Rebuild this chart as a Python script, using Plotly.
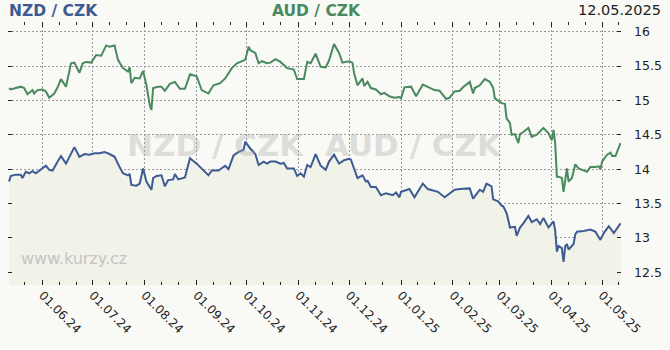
import plotly.graph_objects as go

aud_dates = ["2024-05-12","2024-05-13","2024-05-16","2024-05-19","2024-05-21","2024-05-23","2024-05-26","2024-05-27","2024-05-29",
"2024-06-01","2024-06-03","2024-06-05","2024-06-08","2024-06-10","2024-06-12","2024-06-15","2024-06-18","2024-06-20","2024-06-23",
"2024-06-25","2024-06-27","2024-06-30","2024-07-03","2024-07-06","2024-07-09","2024-07-11","2024-07-14","2024-07-16","2024-07-19",
"2024-07-22","2024-07-23","2024-07-24","2024-07-26","2024-07-29","2024-07-31","2024-08-02","2024-08-04","2024-08-05","2024-08-06",
"2024-08-09","2024-08-11","2024-08-13","2024-08-16","2024-08-19","2024-08-22","2024-08-25","2024-08-28","2024-09-01","2024-09-04",
"2024-09-08","2024-09-11","2024-09-15","2024-09-18","2024-09-22","2024-09-25","2024-09-30","2024-10-02","2024-10-03","2024-10-06",
"2024-10-08","2024-10-10","2024-10-13","2024-10-15","2024-10-18","2024-10-21","2024-10-25","2024-10-29","2024-10-31","2024-11-04",
"2024-11-06","2024-11-08","2024-11-11","2024-11-14","2024-11-17","2024-11-19","2024-11-22","2024-11-25","2024-11-27","2024-12-01",
"2024-12-03","2024-12-04","2024-12-06","2024-12-09","2024-12-10","2024-12-12","2024-12-14","2024-12-17","2024-12-20","2024-12-22",
"2024-12-25","2024-12-28","2024-12-31","2025-01-01","2025-01-03","2025-01-07","2025-01-10","2025-01-14","2025-01-17","2025-01-21",
"2025-01-24","2025-01-28","2025-01-30","2025-02-02","2025-02-05","2025-02-07","2025-02-11","2025-02-13","2025-02-14","2025-02-17",
"2025-02-20","2025-02-23","2025-02-25","2025-02-26","2025-03-02","2025-03-04","2025-03-05","2025-03-07","2025-03-08","2025-03-10",
"2025-03-12","2025-03-13","2025-03-15","2025-03-18","2025-03-20","2025-03-23","2025-03-27","2025-03-30","2025-04-01","2025-04-02",
"2025-04-03","2025-04-04","2025-04-05","2025-04-07","2025-04-08","2025-04-09","2025-04-10","2025-04-11","2025-04-13","2025-04-15",
"2025-04-17","2025-04-22","2025-04-24","2025-04-27","2025-04-29","2025-04-30","2025-05-01","2025-05-04","2025-05-06","2025-05-07",
"2025-05-09","2025-05-12"]
aud_values = [15.18,15.16,15.18,15.20,15.18,15.09,15.15,15.10,15.15,
15.16,15.13,15.04,15.10,15.19,15.31,15.20,15.54,15.55,15.40,
15.54,15.56,15.55,15.66,15.65,15.80,15.78,15.80,15.59,15.47,
15.42,15.48,15.25,15.33,15.32,15.43,15.22,14.93,14.86,15.18,
15.20,15.20,15.14,15.24,15.27,15.17,15.17,15.38,15.35,15.15,
15.10,15.22,15.25,15.32,15.47,15.54,15.59,15.78,15.73,15.69,
15.54,15.57,15.54,15.55,15.60,15.56,15.47,15.45,15.31,15.31,
15.56,15.54,15.68,15.49,15.48,15.58,15.82,15.69,15.55,15.57,
15.55,15.39,15.22,15.32,15.21,15.27,15.18,15.16,15.09,15.11,
15.06,15.04,15.05,15.03,15.19,15.20,15.06,15.23,15.20,15.15,
15.14,15.02,15.04,15.13,15.14,15.19,15.27,15.10,15.18,15.22,
15.31,15.27,15.18,15.03,14.96,14.95,14.74,14.67,14.50,14.51,
14.38,14.51,14.54,14.60,14.47,14.50,14.60,14.52,14.42,14.57,
14.38,13.89,13.89,13.87,13.67,13.89,14.01,13.82,13.87,14.07,
14.01,13.96,14.03,14.03,14.04,14.00,14.11,14.21,14.24,14.19,
14.19,14.38]

nzd_dates = ["2024-05-12","2024-05-13","2024-05-16","2024-05-19","2024-05-20","2024-05-22","2024-05-24","2024-05-26","2024-05-28",
"2024-05-31","2024-06-03","2024-06-05","2024-06-07","2024-06-10","2024-06-12","2024-06-15","2024-06-20","2024-06-23","2024-06-26",
"2024-06-29","2024-07-02","2024-07-05","2024-07-08","2024-07-11","2024-07-14","2024-07-17","2024-07-19","2024-07-22","2024-07-23",
"2024-07-24","2024-07-27","2024-07-29","2024-07-31","2024-08-02","2024-08-05","2024-08-06","2024-08-08","2024-08-11","2024-08-13",
"2024-08-15","2024-08-18","2024-08-19","2024-08-21","2024-08-25","2024-08-28","2024-09-01","2024-09-04","2024-09-08","2024-09-10",
"2024-09-14","2024-09-18","2024-09-20","2024-09-23","2024-09-26","2024-09-29","2024-09-30","2024-10-03","2024-10-06","2024-10-08",
"2024-10-11","2024-10-13","2024-10-15","2024-10-18","2024-10-21","2024-10-23","2024-10-25","2024-10-29","2024-10-31","2024-11-02",
"2024-11-04","2024-11-06","2024-11-08","2024-11-11","2024-11-14","2024-11-17","2024-11-19","2024-11-22","2024-11-25","2024-11-28",
"2024-12-01","2024-12-02","2024-12-04","2024-12-06","2024-12-09","2024-12-11","2024-12-12","2024-12-14","2024-12-17","2024-12-20",
"2024-12-23","2024-12-27","2024-12-29","2024-12-31","2025-01-01","2025-01-06","2025-01-09","2025-01-14","2025-01-17","2025-01-23",
"2025-01-27","2025-01-30","2025-02-02","2025-02-05","2025-02-08","2025-02-11","2025-02-13","2025-02-16","2025-02-17","2025-02-19",
"2025-02-21","2025-02-24","2025-02-25","2025-02-28","2025-03-02","2025-03-03","2025-03-05","2025-03-06","2025-03-07","2025-03-10",
"2025-03-11","2025-03-13","2025-03-15","2025-03-18","2025-03-20","2025-03-23","2025-03-25","2025-03-27","2025-03-30","2025-04-02",
"2025-04-03","2025-04-04","2025-04-05","2025-04-07","2025-04-08","2025-04-09","2025-04-10","2025-04-11","2025-04-14","2025-04-15",
"2025-04-16","2025-04-20","2025-04-24","2025-04-27","2025-04-30","2025-05-02","2025-05-05","2025-05-08","2025-05-12"]
nzd_values = [13.82,13.90,13.92,13.92,13.87,13.96,13.94,13.97,13.94,
13.99,14.05,13.99,13.98,14.11,14.19,14.08,14.32,14.18,14.22,
14.21,14.23,14.23,14.25,14.22,14.18,14.03,13.94,13.91,13.93,
13.77,13.76,13.79,14.01,13.82,13.70,13.87,13.90,13.91,13.75,
13.84,13.85,13.93,13.85,13.88,14.16,14.08,14.01,13.91,13.98,
13.98,14.05,14.00,14.20,14.25,14.28,14.40,14.30,14.22,14.06,
14.11,14.08,14.11,14.11,14.08,14.09,14.01,14.01,13.90,13.94,
13.89,14.06,14.03,14.22,14.05,13.99,14.11,14.21,14.08,14.13,
14.15,14.14,13.99,13.87,13.91,13.82,13.83,13.74,13.74,13.62,
13.65,13.62,13.66,13.59,13.67,13.71,13.59,13.79,13.71,13.67,
13.59,13.64,13.70,13.71,13.72,13.72,13.57,13.67,13.70,13.67,
13.79,13.75,13.56,13.53,13.47,13.46,13.36,13.26,13.15,13.16,
13.03,13.15,13.21,13.32,13.23,13.27,13.20,13.29,13.15,13.24,
13.11,12.80,12.88,12.85,12.65,12.88,12.91,12.83,12.91,13.05,
13.09,13.10,13.12,13.09,12.97,13.07,13.17,13.07,13.21]

month_ticks = ["2024-06-01","2024-07-01","2024-08-01","2024-09-01","2024-10-01","2024-11-01",
               "2024-12-01","2025-01-01","2025-02-01","2025-03-01","2025-04-01","2025-05-01"]
month_labels = ["01.06.24","01.07.24","01.08.24","01.09.24","01.10.24","01.11.24",
                "01.12.24","01.01.25","01.02.25","01.03.25","01.04.25","01.05.25"]
minor_ticks = []
for m in ["2024-05","2024-06","2024-07","2024-08","2024-09","2024-10","2024-11","2024-12",
          "2025-01","2025-02","2025-03","2025-04","2025-05"]:
    minor_ticks += [m + "-11", m + "-21"]
y_ticks = [12.5, 13, 13.5, 14, 14.5, 15, 15.5, 16]

BLUE = "#3d5b92"
GREEN = "#488a5d"
BG = "#f9f9f5"
FONT = "DejaVu Sans"

fig = go.Figure()
fig.add_trace(go.Scatter(x=nzd_dates, y=nzd_values, mode="lines", fill="tozeroy",
                         fillcolor="#f1f2e8", line=dict(color=BLUE, width=2),
                         name="NZD / CZK", showlegend=False))
fig.add_trace(go.Scatter(x=aud_dates, y=aud_values, mode="lines",
                         line=dict(color=GREEN, width=2),
                         name="AUD / CZK", showlegend=False))

fig.update_layout(
    width=670, height=350,
    margin=dict(l=8, r=45, t=22, b=65),
    paper_bgcolor=BG, plot_bgcolor=BG,
    font=dict(family=FONT, color="#222222"),
    xaxis=dict(
        type="date", range=["2024-05-11 09:00", "2025-05-12 07:00"],
        tickmode="array", tickvals=month_ticks, ticktext=month_labels,
        tickangle=45, tickfont=dict(size=12, color="#222222"),
        ticks="inside", ticklen=5, tickcolor="#222222", tickwidth=1,
        mirror="ticks", showline=False, zeroline=False,
        showgrid=True, gridcolor="#9a9a9a", griddash="2px,2px", gridwidth=1,
        minor=dict(tickmode="array", tickvals=minor_ticks, ticks="inside",
                   ticklen=3, tickcolor="#222222", showgrid=False),
    ),
    yaxis=dict(
        side="right", range=[12.314, 16.141],
        tickmode="array", tickvals=y_ticks, ticktext=[f"{v:g}" for v in y_ticks],
        tickfont=dict(size=12.5, color="#222222"),
        ticks="inside", ticklen=4, tickcolor="#222222", mirror="ticks",
        ticklabelstandoff=12,
        showline=False, zeroline=False,
        showgrid=True, gridcolor="#9a9a9a", griddash="2px,2px", gridwidth=1,
    ),
    annotations=[
        dict(text="<b>NZD / CZK</b>", xref="paper", yref="paper", x=-0.001, y=1.0, yshift=22,
             xanchor="left", yanchor="top", showarrow=False,
             font=dict(family=FONT, size=15.5, color=BLUE)),
        dict(text="<b>AUD / CZK</b>", xref="paper", yref="paper", x=0.503, y=1.0, yshift=22,
             xanchor="center", yanchor="top", showarrow=False,
             font=dict(family=FONT, size=15.5, color=GREEN)),
        dict(text="12.05.2025", xref="paper", yref="paper", x=1.0, xshift=42, y=1.0, yshift=22,
             xanchor="right", yanchor="top", showarrow=False,
             font=dict(family=FONT, size=14.5, color="#222222")),
        dict(text="<b>NZD / CZK  AUD / CZK</b>", xref="paper", yref="paper", x=0.5, y=0.532,
             xanchor="center", yanchor="middle", showarrow=False,
             font=dict(family=FONT, size=31, color="rgba(170,170,170,0.36)")),
        dict(text="www.kurzy.cz", xref="paper", yref="paper", x=0.018, y=0.1,
             xanchor="left", yanchor="middle", showarrow=False,
             font=dict(family=FONT, size=16, color="#c4c4c4")),
    ],
)

fig.write_html("out.html")
